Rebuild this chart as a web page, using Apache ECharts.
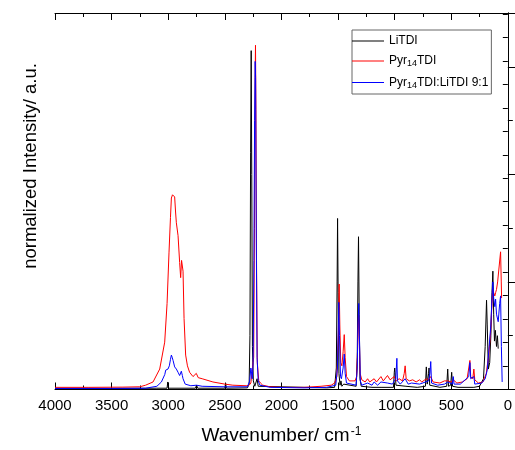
<!DOCTYPE html>
<html><head><meta charset="utf-8">
<script src="https://cdn.jsdelivr.net/npm/echarts@6/dist/echarts.min.js"></script>
<style>html,body{margin:0;padding:0;background:#fff}#c{width:515px;height:450px}</style>
</head><body><div id="c"></div>
<script>
// ---- data (wavenumber / cm-1 and normalized intensity) ----
const seriesNames = ['LiTDI', 'Pyr14TDI', 'Pyr14TDI:LiTDI 9:1'];
const xTicks = [4000, 3500, 3000, 2500, 2000, 1500, 1000, 500, 0];

const liWn = [4000,3500,3100,3010,3004,2998,2760,2749,2740,2500,2493,2486,2300,2285,2278,2272,2267,2262,2256,2248,2235,2215,2205,2190,1600,1530,1515,1508,1504,1499,1492,1482,1474,1466,1450,1440,1340,1330,1324,1319,1313,1306,1295,1200,1120,1010,1003,999,995,988,900,800,728,720,712,700,696,690,600,540,531,524,505,496,488,440,300,250,215,200,188,182,172,160,150,140,132,125,118,110,100,92,85];
const liI  = [0.01,0.01,0.012,0.012,0.07,0.012,0.012,0.04,0.012,0.012,0.06,0.012,0.015,0.05,0.5,2.2,3.15,2.0,0.4,0.08,0.03,0.1,0.03,0.015,0.015,0.02,0.2,1.0,1.59,0.9,0.15,0.04,0.08,0.03,0.05,0.04,0.03,0.3,1.0,1.42,0.7,0.1,0.03,0.02,0.02,0.02,0.16,0.2,0.21,0.04,0.03,0.02,0.03,0.21,0.05,0.15,0.2,0.04,0.02,0.03,0.19,0.03,0.04,0.16,0.03,0.02,0.02,0.03,0.1,0.4,0.83,0.6,0.19,0.25,0.5,0.9,1.1,0.7,0.45,0.55,0.4,0.5,0.38];

const pyrWn = [4000,3700,3400,3251,3200,3134,3075,3031,3010,2993,2980,2972,2962,2950,2943,2935,2928,2913,2899,2890,2882,2876,2869,2860,2846,2830,2811,2781,2752,2735,2700,2605,2500,2429,2311,2285,2270,2255,2245,2238,2232,2229,2225,2220,2213,2200,2185,2179,2165,2100,2000,1800,1650,1560,1530,1510,1497,1490,1484,1476,1466,1455,1445,1437,1425,1400,1350,1335,1325,1319,1313,1305,1290,1260,1239,1220,1181,1160,1121,1100,1063,1040,1004,985,960,930,915,907,898,870,840,810,780,760,720,700,681,660,600,560,531,500,482,450,400,360,345,335,328,310,300,292,260,220,190,182,170,152,140,132,125,115,108,100,90,79,64,58,55];
const pyrI  = [0.02,0.02,0.022,0.025,0.04,0.07,0.19,0.44,0.8,1.27,1.6,1.78,1.81,1.81,1.79,1.65,1.55,1.43,1.18,1.04,1.2,1.2,1.1,0.66,0.32,0.22,0.16,0.12,0.15,0.11,0.1,0.07,0.05,0.04,0.035,0.04,0.06,0.05,0.3,1.5,2.9,3.2,2.6,1.2,0.25,0.08,0.06,0.07,0.04,0.025,0.02,0.02,0.03,0.04,0.06,0.12,0.5,0.98,0.6,0.25,0.22,0.35,0.51,0.3,0.12,0.08,0.08,0.12,0.45,0.7,0.55,0.15,0.09,0.07,0.1,0.07,0.1,0.07,0.12,0.08,0.13,0.09,0.12,0.08,0.1,0.08,0.15,0.22,0.1,0.08,0.09,0.07,0.09,0.07,0.1,0.09,0.12,0.07,0.06,0.08,0.08,0.07,0.09,0.06,0.07,0.1,0.2,0.27,0.12,0.1,0.19,0.09,0.06,0.07,0.15,0.22,0.3,0.53,0.8,0.93,0.9,0.87,0.9,0.93,1.0,1.12,1.28,1.0,0.85];

const mixWn = [4000,3500,3200,3100,3060,3030,3022,3010,3002,2990,2980,2972,2965,2957,2943,2928,2913,2899,2884,2875,2869,2850,2800,2750,2700,2500,2300,2280,2270,2265,2258,2250,2243,2237,2232,2228,2222,2215,2205,2190,2100,1800,1600,1520,1505,1497,1493,1487,1478,1470,1455,1445,1437,1425,1340,1330,1324,1317,1311,1303,1290,1239,1200,1181,1150,1121,1063,1020,990,980,975,950,907,880,850,780,700,688,681,674,620,560,530,490,482,475,420,345,335,328,300,292,230,200,182,165,150,140,132,125,115,108,100,85,72,64,57,50];
const mixI  = [0.01,0.01,0.012,0.03,0.07,0.14,0.18,0.17,0.19,0.22,0.28,0.32,0.3,0.27,0.21,0.19,0.16,0.13,0.17,0.13,0.1,0.05,0.035,0.04,0.03,0.025,0.025,0.08,0.2,0.17,0.1,0.25,1.2,2.5,3.05,2.9,1.4,0.3,0.08,0.04,0.02,0.015,0.02,0.04,0.2,0.6,0.81,0.5,0.12,0.1,0.2,0.33,0.15,0.06,0.04,0.2,0.6,0.8,0.5,0.08,0.04,0.06,0.04,0.07,0.04,0.07,0.06,0.05,0.1,0.29,0.08,0.05,0.1,0.05,0.06,0.05,0.08,0.15,0.26,0.06,0.04,0.05,0.07,0.05,0.12,0.05,0.05,0.12,0.25,0.1,0.12,0.05,0.06,0.1,0.18,0.4,0.6,0.85,1.0,0.85,0.77,0.84,0.7,0.63,0.8,0.87,0.4,0.07];

const seriesColors = ['#000000', '#ff0000', '#0000ff'];

function pairs(xs, ys) { return xs.map((x, i) => [x, ys[i]]); }

const FONT = "'Liberation Sans', Arial, Helvetica, sans-serif";
const chart = echarts.init(document.getElementById('c'), null, {renderer: 'canvas'});

const xCommon = {
  type: 'value', min: xTicks[xTicks.length - 1], max: xTicks[0], interval: 500, inverse: true,
  axisLine: {show: true, onZero: false, lineStyle: {color: '#000', width: 1}},
  axisTick: {show: true, inside: true, length: 7, lineStyle: {color: '#000'}},
  minorTick: {show: true, splitNumber: 2, length: 4, lineStyle: {color: '#000'}},
  splitLine: {show: false}, minorSplitLine: {show: false}
};

chart.setOption({
  animation: false,
  backgroundColor: '#fff',
  grid: {left: 55, right: 6, top: 13, bottom: 59, containLabel: false},
  xAxis: [
    Object.assign({}, xCommon, {
      position: 'bottom',
      axisLabel: {show: true, fontSize: 15, color: '#000', fontFamily: FONT, margin: 9,
                  formatter: function (v) { return String(v); }},
      name: '{a|Wavenumber/ cm}{s|-1}', nameLocation: 'middle', nameGap: 36,
      nameTextStyle: {color: '#000', fontFamily: FONT, fontSize: 19,
        rich: {a: {fontSize: 19, fontFamily: FONT, color: '#000'},
               s: {fontSize: 12, fontFamily: FONT, color: '#000', verticalAlign: 'top', padding: [0, 0, 8, 1]}}}
    }),
    Object.assign({}, xCommon, {position: 'top', axisLabel: {show: false}})
  ],
  yAxis: [
    {type: 'value', min: 0, max: 3.5, interval: 1, position: 'left',
     axisLine: {show: true, lineStyle: {color: '#000', width: 1}},
     axisTick: {show: true, inside: true, length: 8, lineStyle: {color: '#000'}},
     minorTick: {show: true, splitNumber: 2, length: 5, lineStyle: {color: '#000'}},
     axisLabel: {show: false}, splitLine: {show: false}},
    {type: 'value', min: 0, max: 16.04, interval: 1, position: 'right',
     axisLine: {show: true, lineStyle: {color: '#000', width: 1}},
     axisTick: {show: true, inside: true, length: 5, lineStyle: {color: '#000'}},
     axisLabel: {show: false}, splitLine: {show: false}}
  ],
  legend: {
    orient: 'vertical', left: 352, top: 30, itemWidth: 32, itemHeight: 1, itemGap: 8,
    icon: 'rect',
    padding: [5, 3, 4, 0], borderColor: '#666', borderWidth: 1, backgroundColor: '#fff',
    data: seriesNames,
    formatter: function (name) {
      return name.replace(/^Pyr14/, '{m|Pyr}{sub|14}{m|').replace(/^(?!\{)/, '{m|') + '}';
    },
    textStyle: {color: '#000', fontFamily: FONT, fontSize: 12,
      rich: {m: {fontSize: 12, fontFamily: FONT, color: '#000'},
             sub: {fontSize: 9, fontFamily: FONT, color: '#000', verticalAlign: 'bottom', padding: [6, 0, 0, 0]}}}
  },
  graphic: [{
    type: 'text', x: 31, y: 166, rotation: Math.PI / 2,
    style: {text: 'normalized Intensity/ a.u.', fontSize: 18.5, fontFamily: FONT, fill: '#000',
            align: 'center', verticalAlign: 'middle'}
  }],
  series: [
    {name: seriesNames[0], type: 'line', data: pairs(liWn, liI)},
    {name: seriesNames[1], type: 'line', data: pairs(pyrWn, pyrI)},
    {name: seriesNames[2], type: 'line', data: pairs(mixWn, mixI)}
  ].map((s, i) => Object.assign(s, {
    xAxisIndex: 0, yAxisIndex: 0, symbol: 'none', showSymbol: false, smooth: false,
    color: seriesColors[i], lineStyle: {color: seriesColors[i], width: 1}
  }))
});
</script></body></html>
